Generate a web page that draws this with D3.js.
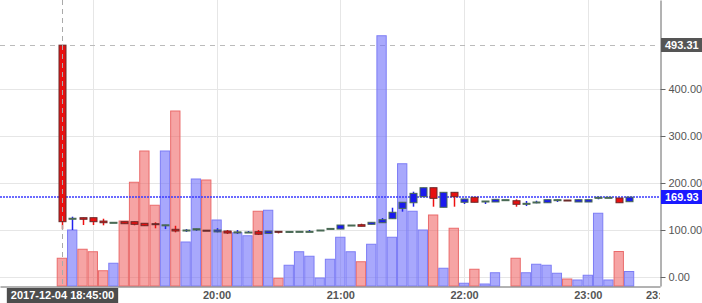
<!DOCTYPE html>
<html>
<head>
<meta charset="utf-8">
<script src="https://d3js.org/d3.v7.min.js"></script>
<style>
  body { margin: 0; background: #fff; }
  svg { display: block; font-family: "Liberation Sans", Arial, sans-serif; }
</style>
</head>
<body>
<svg id="chart" width="702" height="303"></svg>
<script>
// 5 minute candles starting 2017-12-04 18:45
var startTime = new Date(2017, 11, 4, 18, 45);
var opens  = [493.31,124.5,126.2,126.2,119,116.4,117.7,117.7,114.3,113.4,110.6,101.5,100,100,99.6,96,97.9,95.7,95.7,96.4,92.8,97.2,96.5,97.2,97.2,98.9,103.4,102,110.6,111.3,112.1,115.5,124,146,158,170.9,190,148.3,180.2,159,169.6,161.7,159.6,164.5,162.3,156.8,159.6,158,164.5,163.8,159.6,159.6,169.6,169.6,168.1,160.2];
var highs  = [493.31,128.3,126.5,126.2,124,116.4,117.7,118,114.3,116.4,111,109,102,102.7,99.6,104,100,100,97.9,100,97.9,97.2,97.9,97.2,100,100,103.4,110.6,110.6,113.4,116.4,125.5,147.4,159,181.5,190,190,180.2,180.2,166,169.6,161.7,165.3,164.5,165.3,161.7,162.3,164.5,164.5,163.8,164.5,164.5,171,169.6,168.1,169.93];
var lows   = [101.5,100,110.6,110.6,110,116.4,113,110,108.5,103.6,102,95,96,98,99.4,95,91.5,91.5,93.6,89.4,92.8,92.8,93.6,97.2,97.2,98.9,103.4,102,110.6,107.9,112.1,115.5,124,139,149.6,170.9,149.6,148.3,149.6,155.3,159,155.3,159.6,164.5,149.6,151,156.8,158,159.6,161.7,159.6,159.6,165.3,169.6,158,160.2];
var closes = [117.7,125,122.8,117.7,115.5,116.4,113.4,112.1,109.1,112.4,111,97.9,100,102.7,99.4,100,93.6,96,95.7,91,97.9,96.8,97,97.2,97.2,100,103.4,110.6,110.6,107.9,116.4,121.9,137.7,159,178,190,167.4,180.2,170.9,166,159,161.7,165.3,164.5,154.7,156.8,159.6,164.5,164.5,161.7,164.5,164.5,169.6,169.6,158,169.93];
var volumes = [111,224,147,137,61,91,260,415,540,323,540,700,176,428,424,264,217,213,201,299,303,31,83,137,119,32,107,195,137,97,167,1001,195,489,299,224,284,71,231,11,67,8,53,0,111,53,87,83,51,28,24,43,291,24,138,58];
var yTicks = [0, 100, 200, 300, 400];
var highValue = 493.31;
var lastValue = 169.93;
var cursorLabel = "2017-12-04 18:45:00";

var W = 660, H = 286;
var svg = d3.select("#chart");

var data = opens.map(function(o, i) {
  return { t: d3.timeMinute.offset(startTime, 5 * i), o: o, h: highs[i], l: lows[i], c: closes[i], v: volumes[i] };
});

var x = d3.scaleTime()
  .domain([new Date(2017, 11, 4, 18, 15), new Date(2017, 11, 4, 23, 35)])
  .range([0, W]);
var y = d3.scaleLinear().domain([-19.15, 589.4]).range([H, 0]);
var yv = d3.scaleLinear().domain([0, 1000]).range([H, 36]);
var step = x(d3.timeMinute.offset(startTime, 5)) - x(startTime);
var bodyW = 7;

svg.append("defs").append("clipPath").attr("id", "clip")
  .append("rect").attr("x", 0).attr("y", 0).attr("width", W).attr("height", 303);

// grid
var grid = svg.append("g");
grid.selectAll(".hg").data(yTicks).enter().append("line")
  .attr("x1", 0).attr("x2", W)
  .attr("y1", function(d) { return Math.round(y(d)) + 0.5; })
  .attr("y2", function(d) { return Math.round(y(d)) + 0.5; })
  .attr("stroke", "#e6e6e6");
grid.selectAll(".vg").data(x.ticks(d3.timeHour.every(1))).enter().append("line")
  .attr("x1", function(d) { return Math.round(x(d)) + 0.5; })
  .attr("x2", function(d) { return Math.round(x(d)) + 0.5; })
  .attr("y1", 0).attr("y2", H)
  .attr("stroke", "#e6e6e6");

// high value dashed line
svg.append("line")
  .attr("x1", 0).attr("x2", W)
  .attr("y1", Math.round(y(highValue)) + 0.5).attr("y2", Math.round(y(highValue)) + 0.5)
  .attr("stroke", "#bbb").attr("stroke-dasharray", "5,5");

// volume bars
svg.append("g").selectAll("rect").data(data.filter(function(d) { return d.v > 0; })).enter().append("rect")
  .attr("x", function(d) { return x(d.t) - step / 2 + 0.5; })
  .attr("y", function(d) { return yv(d.v); })
  .attr("width", step - 1)
  .attr("height", function(d) { return H - yv(d.v); })
  .attr("fill", function(d) { return d.c < d.o ? "rgba(238,90,90,0.55)" : "rgba(110,110,250,0.6)"; })
  .attr("stroke", function(d) { return d.c < d.o ? "#ea6b6b" : "#7d7df5"; })
  .attr("stroke-width", 1);

// last value dotted line
svg.append("line")
  .attr("x1", 0).attr("x2", W)
  .attr("y1", Math.round(y(lastValue))).attr("y2", Math.round(y(lastValue)))
  .attr("stroke", "#3a3aff").attr("stroke-width", 1.5).attr("stroke-dasharray", "2,1");

// candles
var candles = svg.append("g").selectAll("g").data(data).enter().append("g");
candles.append("line")
  .attr("x1", function(d) { return Math.round(x(d.t)) + 0.5; })
  .attr("x2", function(d) { return Math.round(x(d.t)) + 0.5; })
  .attr("y1", function(d) { return y(d.h); })
  .attr("y2", function(d) { return y(d.l); })
  .attr("stroke", function(d) { return d.c < d.o ? "#ee1111" : "#2222ee"; })
  .attr("stroke-width", 1.5);
candles.append("rect")
  .attr("x", function(d) { return Math.round(x(d.t)) - bodyW / 2 + 0.5; })
  .attr("y", function(d) { return Math.min(y(d.o), y(d.c)); })
  .attr("width", bodyW)
  .attr("height", function(d) { return Math.max(1, Math.abs(y(d.o) - y(d.c))); })
  .attr("fill", function(d) {
    if (Math.abs(y(d.o) - y(d.c)) < 1.5) return d.c < d.o ? "#5a1515" : "#2f5a3a";
    return d.c < d.o ? "#e81010" : "#1a1aee";
  })
  .attr("stroke", function(d) { return d.c < d.o ? "#6a2a2a" : "#4a6a55"; })
  .attr("stroke-width", 1);

// cursor line
var cx = Math.round(x(startTime)) + 0.5;
svg.append("line")
  .attr("x1", cx).attr("x2", cx).attr("y1", 0).attr("y2", H)
  .attr("stroke", "#aaa").attr("stroke-dasharray", "5,4");

// right axis
var yAxis = svg.append("g")
  .attr("transform", "translate(" + (W + 0.5) + ",0)")
  .call(d3.axisRight(y).tickValues(yTicks).tickFormat(d3.format(".2f")).tickSize(5).tickSizeOuter(0).tickPadding(3));
yAxis.select(".domain").attr("stroke", "#666");
yAxis.selectAll(".tick line").attr("stroke", "#666");
yAxis.selectAll("text").attr("fill", "#555").style("font-size", "11px");

// bottom axis
var xAxis = svg.append("g")
  .attr("transform", "translate(0," + (H + 0.5) + ")")
  .call(d3.axisBottom(x).ticks(d3.timeHour.every(1)).tickFormat(d3.timeFormat("%H:%M")).tickSize(0).tickSizeOuter(0).tickPadding(5));
xAxis.select(".domain").attr("stroke", "#666");
xAxis.selectAll("text").attr("fill", "#555").style("font-size", "11px").style("font-weight", "bold");
// clipped edge label
svg.append("g").attr("clip-path", "url(#clip)")
  .append("text").attr("x", W).attr("y", H + 5).attr("dy", "0.71em")
  .attr("text-anchor", "middle").attr("fill", "#555")
  .style("font-size", "11px").style("font-weight", "bold")
  .text(d3.timeFormat("%H:%M")(x.domain()[1]));

// value flags on the right
function flag(v, bg) {
  var g = svg.append("g");
  var yy = Math.round(y(v));
  var r = g.append("rect").attr("fill", bg);
  var t = g.append("text").attr("x", W + 5).attr("y", yy).attr("dy", "0.35em")
    .attr("fill", "#fff").style("font-size", "11px").style("font-weight", "bold")
    .text(d3.format(".2f")(v));
  var b = t.node().getBBox();
  r.attr("x", W + 1).attr("y", yy - 7).attr("width", b.width + 8).attr("height", 14);
}
flag(highValue, "#555");
flag(lastValue, "#1a1aff");

// cursor time label
var lg = svg.append("g");
var lr = lg.append("rect").attr("fill", "#4d4d4d");
var lt = lg.append("text").attr("x", cx).attr("y", H + 9.5).attr("dy", "0.35em")
  .attr("text-anchor", "middle").attr("fill", "#fff")
  .style("font-size", "11px").style("font-weight", "bold")
  .text(cursorLabel);
var lb = lt.node().getBBox();
lr.attr("x", lb.x - 4).attr("y", H + 2).attr("width", lb.width + 8).attr("height", 17);

// tick labels covered by the cursor label are hidden
xAxis.selectAll(".tick").filter(function(d) {
  var p = x(d);
  return p > lb.x - 20 && p < lb.x + lb.width + 20;
}).select("text").remove();
</script>
</body>
</html>
